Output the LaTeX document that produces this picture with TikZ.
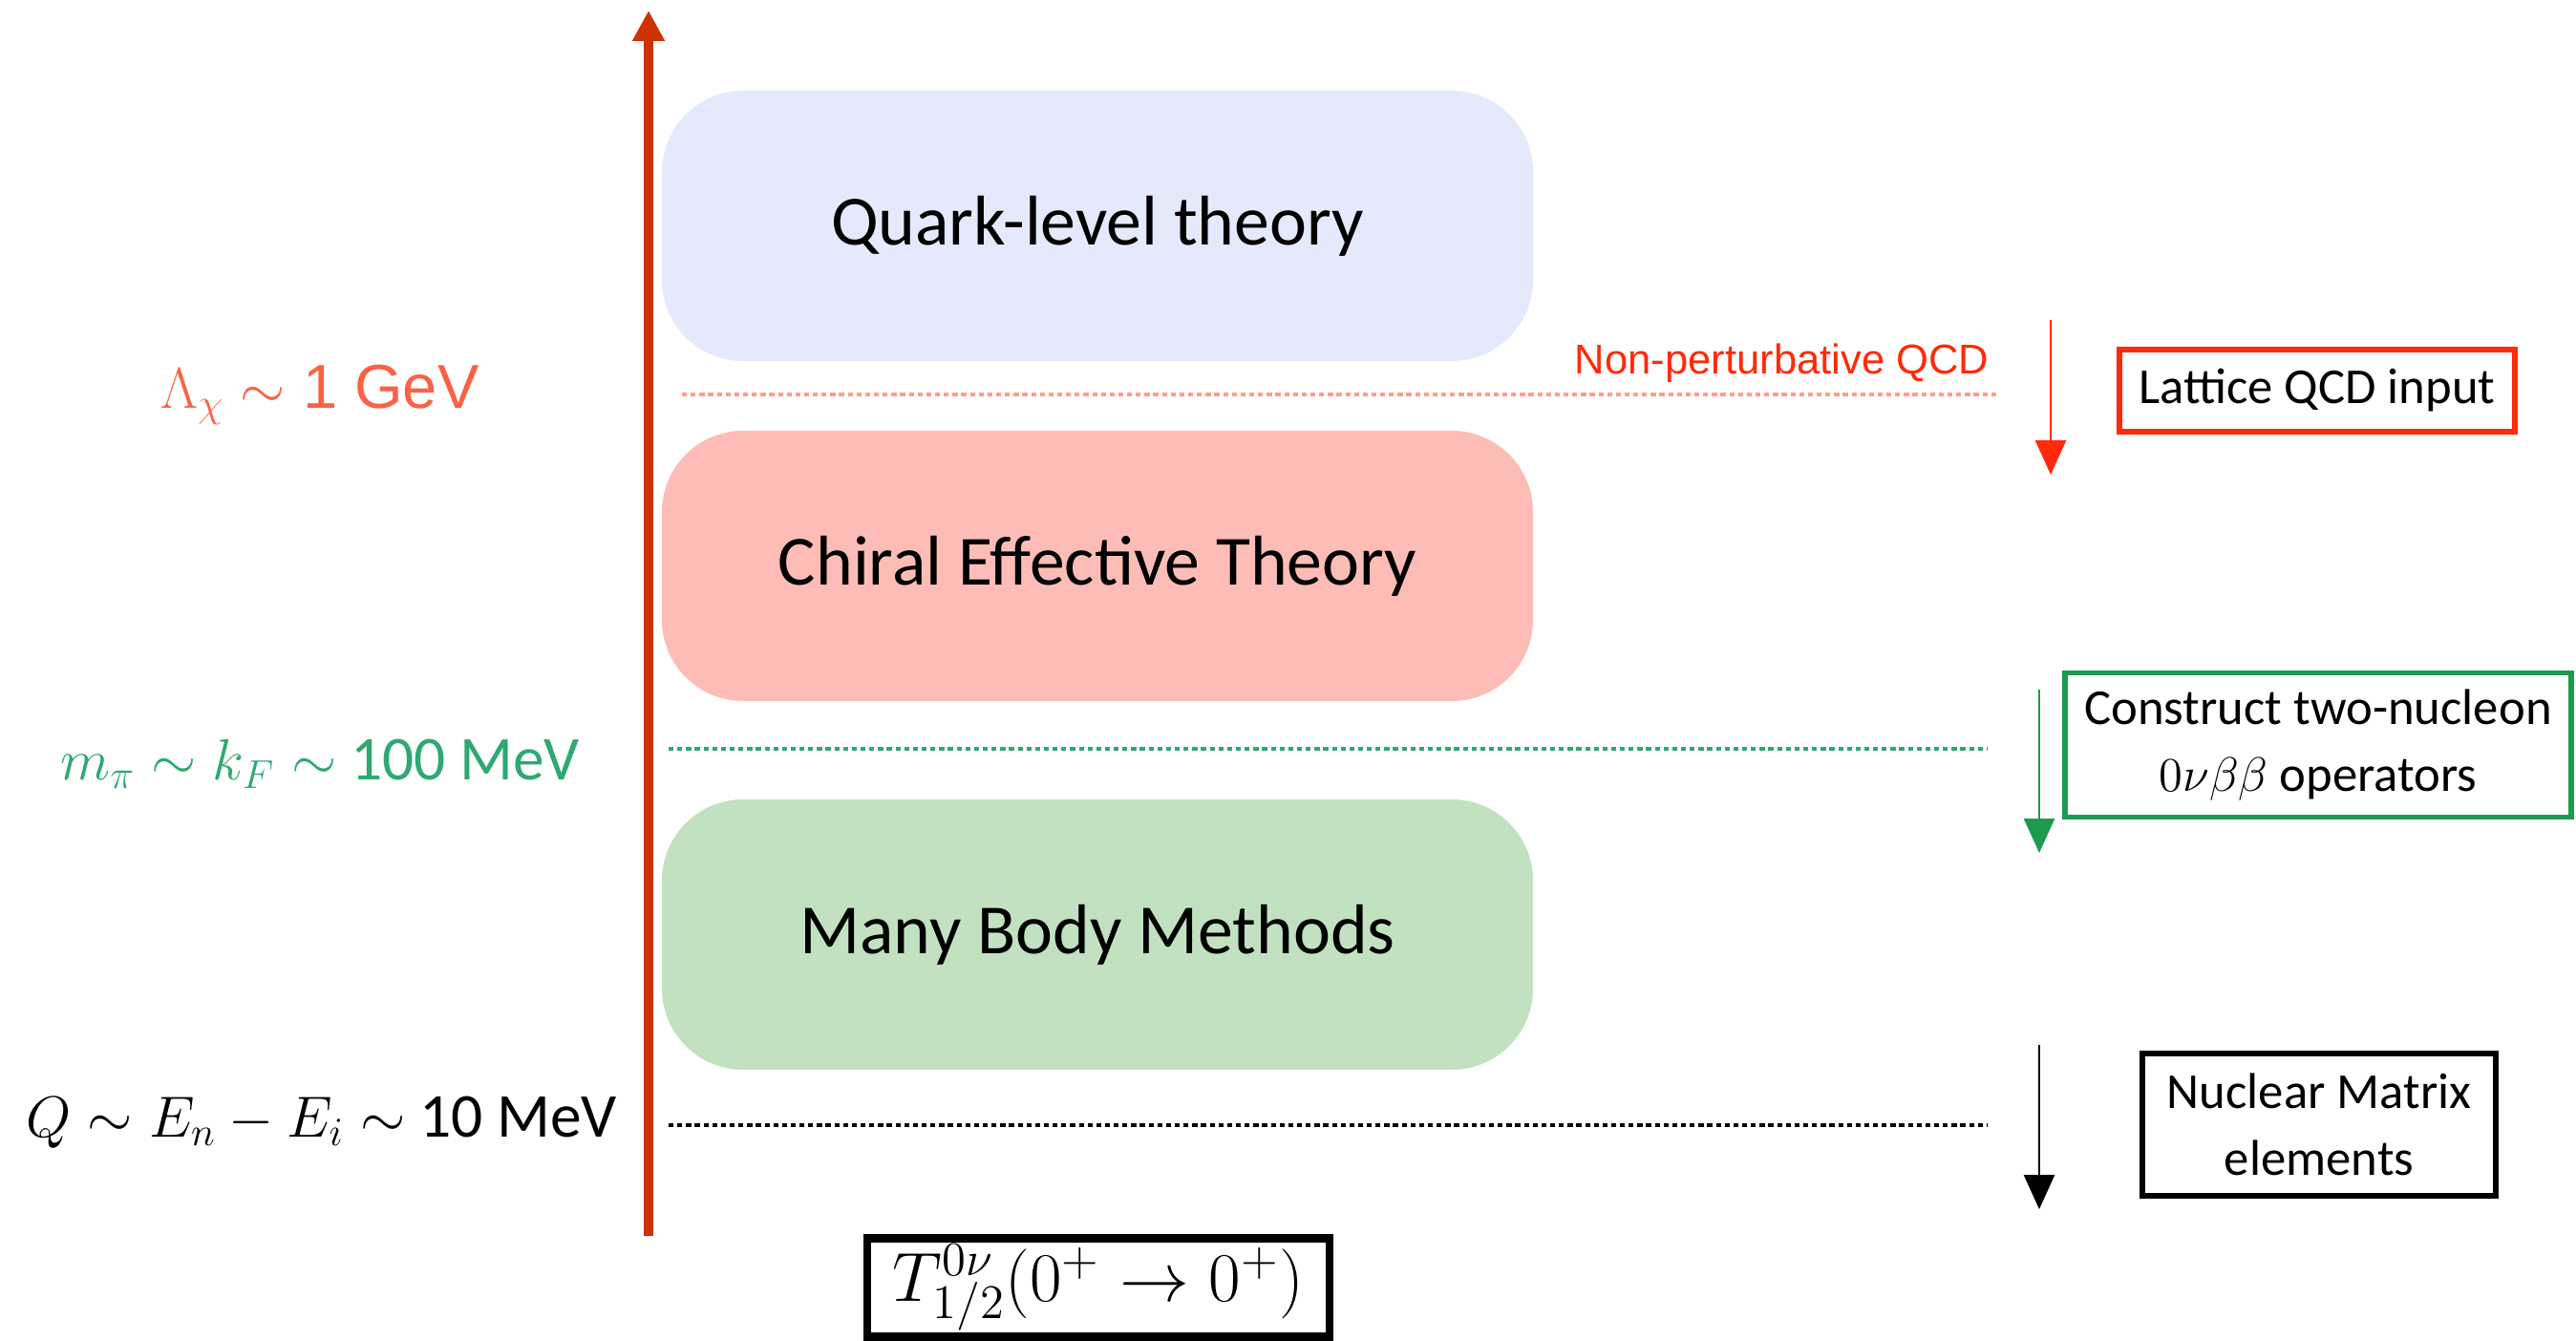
\documentclass[tikz,border=0pt]{standalone}
\usepackage[no-math]{fontspec}
\setmainfont{Carlito}
\newfontfamily\helvfont{Liberation Sans}
\usetikzlibrary{arrows.meta}

\definecolor{axisred}{HTML}{CC3300}
\definecolor{lamred}{HTML}{FA6246}
\definecolor{qcdred}{HTML}{FF2A0A}
\definecolor{dotred}{HTML}{FF9C8C}
\definecolor{pigreen}{HTML}{2FA872}
\definecolor{boxgreen}{HTML}{1E9A50}
\definecolor{quarkblue}{HTML}{E4EAFC}
\definecolor{chipink}{HTML}{FDBDB6}
\definecolor{mbgreen}{HTML}{C2E1C0}

\begin{document}
\begin{tikzpicture}[
  theory/.style={minimum width=9.12cm,minimum height=2.83cm,rounded corners=0.85cm,
                 align=center,inner sep=0pt,font=\fontsize{21}{25}\selectfont},
  scalelabel/.style={font=\fontsize{18.6}{23}\selectfont,inner sep=0pt},
  inputbox/.style={draw,line width=1.6pt,align=center,inner sep=0pt,
                   font=\fontsize{15}{20}\selectfont},
  cutline/.style={line width=1.1pt,dash pattern=on 1.5pt off 1.1pt},
  down/.style={-{Triangle[length=0.36cm,width=0.32cm]},line width=0.8pt},
]
\useasboundingbox (0,0) rectangle (26.97,-14.04);

% ---- Energy axis ------------------------------------------------------------
\coordinate (axbot) at (6.79,-12.94);
\coordinate (axtop) at (6.79,-0.11);
\draw[-{Triangle[length=0.32cm,width=0.32cm]},line width=3.1pt,axisred] (axbot) -- (axtop);

% ---- Theories ---------------------------------------------------------------
\node[theory,fill=quarkblue] (quark)  at (11.49,-2.365) {Quark-level theory};
\node[theory,fill=chipink]   (chiral) at (11.49,-5.925) {Chiral Effective Theory};
\node[theory,fill=mbgreen]   (mbody)  at (11.49,-9.785) {Many Body Methods};

% ---- Scales on the left -----------------------------------------------------
\node[scalelabel,text=lamred,font=\fontsize{18.5}{22}\helvfont] (lblLam) at (3.35,-4.13)
     {$\Lambda_\chi\sim$ 1 GeV};
\node[scalelabel,text=pigreen] (lblMpi) at (3.35,-8.0)
     {$m_\pi\sim k_F\sim$ 100 MeV};
\node[scalelabel] (lblQ) at (3.37,-11.75)
     {$Q\sim E_n-E_i\sim$ 10 MeV};

% ---- Dotted cuts -------------------------------------------------------------
\coordinate (redL) at (7.14,-4.13);   \coordinate (redR) at (20.92,-4.13);
\coordinate (grnL) at (7.00,-7.84);   \coordinate (grnR) at (20.81,-7.84);
\coordinate (blkL) at (7.00,-11.78);  \coordinate (blkR) at (20.81,-11.78);
\draw[cutline,dotred]  (redL) -- (redR);
\draw[cutline,pigreen] (grnL) -- (grnR);
\draw[cutline,black]   (blkL) -- (blkR);

\node[anchor=east,inner sep=0pt,text=qcdred,font=\fontsize{12.4}{15}\helvfont] (npqcd)
     at (20.83,-3.80) {Non-perturbative QCD};

% ---- Inputs on the right -----------------------------------------------------
\node[inputbox,draw=qcdred,minimum width=4.14cm,minimum height=0.86cm] (lattice)
     at (24.26,-4.09) {Lattice QCD input};
\node[inputbox,draw=boxgreen,minimum width=5.30cm,minimum height=1.51cm] (twonuc)
     at (24.27,-7.80) {Construct two-nucleon\\$0\nu\beta\beta$ operators};
\node[inputbox,draw=black,minimum width=3.70cm,minimum height=1.49cm] (nme)
     at (24.28,-11.775) {Nuclear Matrix\\elements};

\coordinate (r1) at (21.47,-3.35); \coordinate (r2) at (21.47,-4.97);
\coordinate (g1) at (21.35,-7.22); \coordinate (g2) at (21.35,-8.93);
\coordinate (b1) at (21.35,-10.94); \coordinate (b2) at (21.35,-12.66);
\draw[down,qcdred]   (r1) -- (r2);
\draw[down,boxgreen] (g1) -- (g2);
\draw[down,black]    (b1) -- (b2);

% ---- Half-life ---------------------------------------------------------------
\node[draw,line width=2.4pt,minimum width=4.84cm,minimum height=1.03cm,inner sep=0pt,
      font=\fontsize{20.5}{24}\selectfont] (thalf) at (11.50,-13.48)
     {$T^{0\nu}_{1/2}(0^+\to0^+)$};

\end{tikzpicture}
\end{document}
